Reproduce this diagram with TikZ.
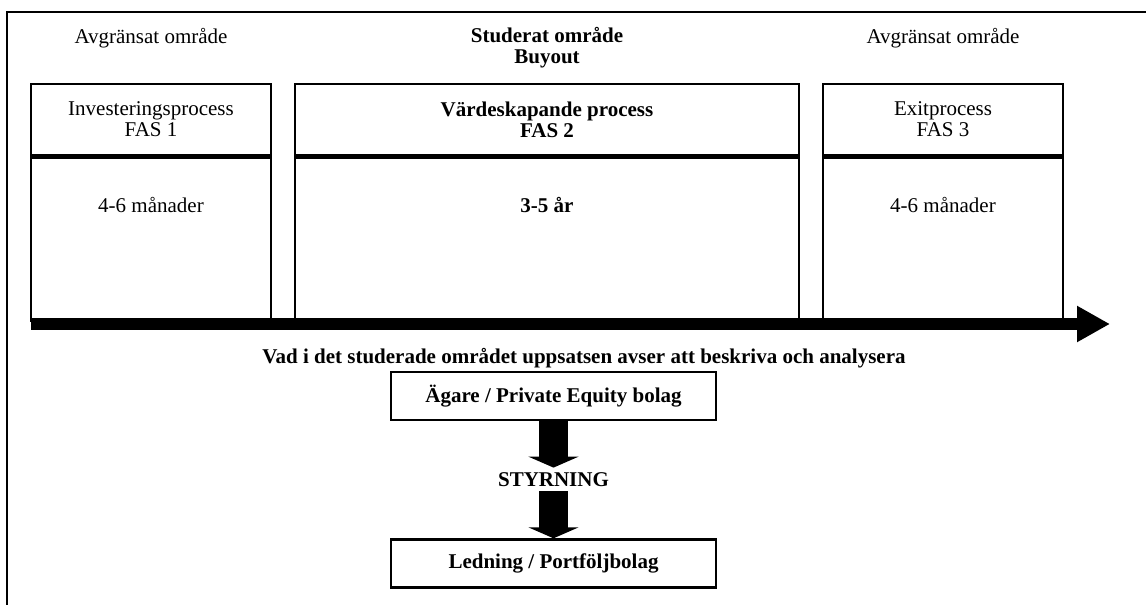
\documentclass[tikz,border=0pt]{standalone}
\usepackage{fontspec}
\setmainfont{Liberation Serif}
\usetikzlibrary{arrows.meta}

\begin{document}
\begin{tikzpicture}[x=0.5pt,y=-0.5pt,
    every node/.style={font=\fontsize{10.5}{10.5}\selectfont},
    fashead/.style={draw, line width=1.2pt, minimum height=35.5pt, align=center, inner sep=0pt},
    fasbody/.style={draw, line width=1.2pt, minimum height=81.5pt, anchor=north, inner sep=0pt},
    pebox/.style={draw, line width=1.2pt, minimum width=162.5pt, minimum height=24pt, font=\fontsize{10.5}{10.5}\selectfont\bfseries},
    blockarrow/.style={line width=14.5pt, -{Triangle[length=5.5pt,width=25pt]}}]
  \useasboundingbox (0,0) rectangle (1146,605);

  % Frame
  \draw[line width=1pt] (7,605) -- (7,12) -- (1146,12);

  % Areas
  \node (omr1) at (151,38) {Avgränsat område};
  \node[align=center, font=\fontsize{10.5}{10.5}\selectfont\bfseries] (omr2) at (547,48) {Studerat område\\Buyout};
  \node (omr3) at (943,38) {Avgränsat område};

  % Phases
  \node[fashead, minimum width=120pt] (fas1h) at (151,119.5) {Investeringsprocess\\FAS 1};
  \node[fasbody, minimum width=120pt] (fas1b) at (fas1h.south) {};
  \node (fas1t) at (151,205) {4-6 månader};

  \node[fashead, minimum width=252pt, font=\fontsize{10.5}{10.5}\selectfont\bfseries] (fas2h) at (547,119.5) {Värdeskapande process\\FAS 2};
  \node[fasbody, minimum width=252pt] (fas2b) at (fas2h.south) {};
  \node[font=\fontsize{10.5}{10.5}\selectfont\bfseries] (fas2t) at (547,205) {3-5 år};

  \node[fashead, minimum width=120pt] (fas3h) at (943,119.5) {Exitprocess\\FAS 3};
  \node[fasbody, minimum width=120pt] (fas3b) at (fas3h.south) {};
  \node (fas3t) at (943,205) {4-6 månader};

  % Time line
  \coordinate (tstart) at (31,324);
  \coordinate (tend) at (1110,324);
  \draw[line width=6pt, -{Triangle[length=16.5pt,width=17pt]}] (tstart) -- (tend);

  % Studied part
  \node[font=\fontsize{10.5}{10.5}\selectfont\bfseries] (vad) at (584,358) {Vad i det studerade området uppsatsen avser att beskriva och analysera};
  \node[pebox] (aga) at (553.5,396) {Ägare / Private Equity bolag};
  \node[font=\fontsize{10.5}{10.5}\selectfont\bfseries, inner sep=0pt, minimum height=11.5pt] (styr) at (553.5,479.5) {STYRNING};
  \node[pebox] (led) at (553.5,563.5) {Ledning / Portföljbolag};
  \draw[blockarrow] (aga.south) -- (styr.north);
  \draw[blockarrow] (styr.south) -- (led.north);
\end{tikzpicture}
\end{document}
